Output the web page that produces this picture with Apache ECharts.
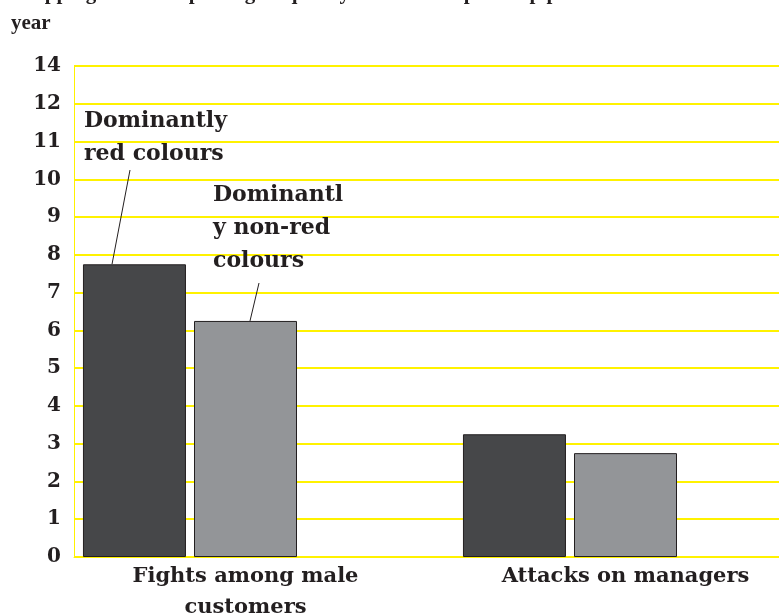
<!DOCTYPE html>
<html>
<head>
<meta charset="utf-8">
<script src="https://cdn.jsdelivr.net/npm/echarts@6/dist/echarts.min.js"></script>
<style>
  html, body { margin: 0; padding: 0; background: #fff; }
  #chart { width: 779px; height: 615px; }
</style>
</head>
<body>
<div id="chart"></div>
<script>
// data
const categories = ['Fights among male\ncustomers', 'Attacks on managers']
const redValues = [7.75, 3.25]
const nonRedValues = [6.25, 2.75]
// the original axis skips 13 and labels its top line 14
const yTickLabels = ['0', '1', '2', '3', '4', '5', '6', '7', '8', '9', '10', '11', '12', '14']

const serif = '"DejaVu Serif", serif'
const ink = '#231f20'
const yellow = '#fff200'

const chart = echarts.init(document.getElementById('chart'), null, { renderer: 'canvas' })

const option = {
  animation: false,
  backgroundColor: '#fff',
  title: {
    text: 'Shopping centres reporting frequency of incidents per shop per\nyear',
    left: 6,
    top: -26,
    textStyle: {
      fontFamily: '"Liberation Serif", serif',
      fontWeight: 'bold',
      fontSize: 21,
      lineHeight: 30,
      color: ink
    }
  },
  grid: {
    left: 74,
    top: 66,
    bottom: 58,
    right: -55,
    containLabel: false,
    outerBoundsMode: 'none'
  },
  xAxis: {
    type: 'category',
    data: categories,
    axisLine: { show: true, lineStyle: { color: yellow, width: 1 } },
    axisTick: { show: false },
    axisLabel: {
      interval: 0,
      margin: 4,
      // move text a little left of the category centre, like the original
      padding: [0, 37, 0, 0],
      fontFamily: serif,
      fontWeight: 'bold',
      fontSize: 21,
      lineHeight: 31,
      color: ink
    }
  },
  yAxis: {
    type: 'value',
    min: 0,
    max: 13,
    interval: 1,
    axisLine: { show: true, lineStyle: { color: yellow, width: 1 } },
    axisTick: { show: false },
    splitLine: { show: true, lineStyle: { color: yellow, width: 2 } },
    axisLabel: {
      margin: 13,
      fontFamily: serif,
      fontWeight: 'bold',
      fontSize: 20,
      color: ink,
      formatter: function(value) {
        return yTickLabels[Math.round(value)]
      }
    }
  },
  series: [
    {
      name: 'Dominantly red colours',
      type: 'bar',
      data: redValues,
      barWidth: 103,
      barGap: '7.8%',
      itemStyle: { color: '#464749', borderColor: ink, borderWidth: 1 }
    },
    {
      name: 'Dominantly non-red colours',
      type: 'bar',
      data: nonRedValues,
      barWidth: 103,
      barGap: '7.8%',
      itemStyle: { color: '#939598', borderColor: ink, borderWidth: 1 }
    },
    {
      // empty slot, keeps the bars left of the category centre
      name: 'spacer',
      type: 'bar',
      data: ['-', '-'],
      barWidth: 140,
      barGap: '7.8%',
      silent: true
    }
  ]
}

chart.setOption(option)

// leader lines end on the bar tops
const redTop = chart.convertToPixel({ yAxisIndex: 0 }, redValues[0])
const nonRedTop = chart.convertToPixel({ yAxisIndex: 0 }, nonRedValues[0])
const noteStyle = {
  font: 'bold 22px ' + serif,
  fill: ink,
  lineHeight: 33
}

chart.setOption({
  graphic: [
    {
      type: 'text',
      left: 84,
      top: 105,
      style: Object.assign({ text: 'Dominantly\nred colours' }, noteStyle)
    },
    {
      type: 'text',
      left: 213,
      top: 179,
      style: Object.assign({ text: 'Dominantl\ny non-red\ncolours' }, noteStyle)
    },
    {
      type: 'line',
      shape: { x1: 130, y1: 170, x2: 112, y2: redTop },
      style: { stroke: ink, lineWidth: 1 }
    },
    {
      type: 'line',
      shape: { x1: 259, y1: 283, x2: 250, y2: nonRedTop },
      style: { stroke: ink, lineWidth: 1 }
    }
  ]
})
</script>
</body>
</html>
